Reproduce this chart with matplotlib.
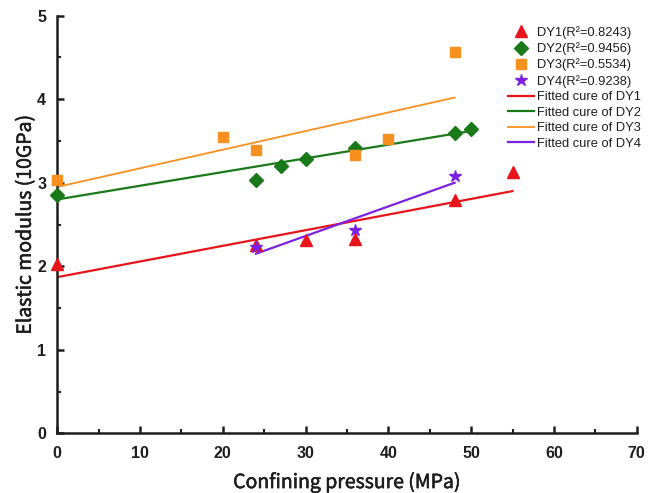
import matplotlib
matplotlib.use("Agg")
import matplotlib.pyplot as plt
import matplotlib.patheffects as pe
from matplotlib.ticker import MultipleLocator

plt.rcParams['font.family'] = ['Liberation Sans', 'DejaVu Sans']
label_font = ['Noto Sans CJK SC', 'DejaVu Sans']

# Measured elastic modulus at each confining pressure
dy1_x = [0, 24, 30, 36, 48, 55]
dy1_y = [2.03, 2.25, 2.32, 2.33, 2.79, 3.13]
dy2_x = [0, 24, 27, 30, 36, 48, 50]
dy2_y = [2.85, 3.03, 3.20, 3.29, 3.42, 3.59, 3.64]
dy3_x = [0, 20, 24, 36, 40, 48]
dy3_y = [3.03, 3.55, 3.39, 3.33, 3.52, 4.57]
dy4_x = [24, 36, 48]
dy4_y = [2.23, 2.43, 3.08]

# Linear fit end points
fit1_x, fit1_y = [0, 55], [1.87, 2.90]
fit2_x, fit2_y = [0, 50], [2.80, 3.62]
fit3_x, fit3_y = [0, 48], [2.95, 4.02]
fit4_x, fit4_y = [24, 48], [2.15, 3.00]

labels_pts = ["DY1(R\u00b2=0.8243)", "DY2(R\u00b2=0.9456)",
              "DY3(R\u00b2=0.5534)", "DY4(R\u00b2=0.9238)"]
labels_fit = ["Fitted cure of DY1", "Fitted cure of DY2",
              "Fitted cure of DY3", "Fitted cure of DY4"]

red, green, orange, purple = "#e8141c", "#1a7a1a", "#f7901e", "#7a22e0"
ink = '#1e1e1e'
heavier = [pe.withStroke(linewidth=0.4, foreground=ink)]

fig = plt.figure(figsize=(6.57, 4.93), dpi=100)
ax = fig.add_axes([57.3 / 657, 1 - 433.3 / 493, (636.7 - 57.3) / 657, (433.3 - 15.7) / 493])

ax.plot(dy1_x, dy1_y, '^', color=red, ms=8, ls='none', label=labels_pts[0], clip_on=False, zorder=3)
ax.plot(dy2_x, dy2_y, 'D', color=green, ms=7, ls='none', label=labels_pts[1], clip_on=False, zorder=3)
ax.plot(dy3_x, dy3_y, 's', color=orange, ms=7, ls='none', label=labels_pts[2], clip_on=False, zorder=3)
ax.plot(dy4_x, dy4_y, '*', color=purple, ms=9, ls='none', label=labels_pts[3], clip_on=False, zorder=3)

ax.plot(fit1_x, fit1_y, color=red, lw=1.6, label=labels_fit[0])
ax.plot(fit2_x, fit2_y, color=green, lw=1.6, label=labels_fit[1])
ax.plot(fit3_x, fit3_y, color=orange, lw=1.3, label=labels_fit[2])
ax.plot(fit4_x, fit4_y, color=purple, lw=1.6, label=labels_fit[3])

ax.set_xlim(0, 70)
ax.set_ylim(0, 5)
ax.xaxis.set_major_locator(MultipleLocator(10))
ax.xaxis.set_minor_locator(MultipleLocator(5))
ax.yaxis.set_major_locator(MultipleLocator(1))
ax.yaxis.set_minor_locator(MultipleLocator(0.5))

for s in ['top', 'right']:
    ax.spines[s].set_visible(False)
for s in ['left', 'bottom']:
    ax.spines[s].set_linewidth(1.8)
    ax.spines[s].set_color(ink)

ax.tick_params(which='major', direction='in', length=5, width=1.8, labelsize=11.5,
               colors=ink)
ax.tick_params(axis='x', which='major', pad=9)
ax.tick_params(axis='y', which='major', pad=8)
ax.tick_params(which='minor', direction='in', length=3, width=1.5, colors=ink)
for lab in ax.get_xticklabels() + ax.get_yticklabels():
    lab.set_fontweight('bold')

ax.set_xlabel("Confining pressure (MPa)", fontsize=14, color=ink,
              labelpad=8, family=label_font, path_effects=heavier)
ax.set_ylabel("Elastic modulus (10GPa)", fontsize=14, color=ink,
              labelpad=1, family=label_font, path_effects=heavier)

leg = ax.legend(loc='upper left', bbox_to_anchor=(508 / 657, 1 - 26 / 493),
                bbox_transform=fig.transFigure, frameon=False, fontsize=9.3,
                handlelength=2.0, handletextpad=0.25, labelspacing=0.27,
                borderaxespad=0, borderpad=0)
for t in leg.get_texts():
    t.set_color(ink)

fig.savefig("out.png", dpi=100)
